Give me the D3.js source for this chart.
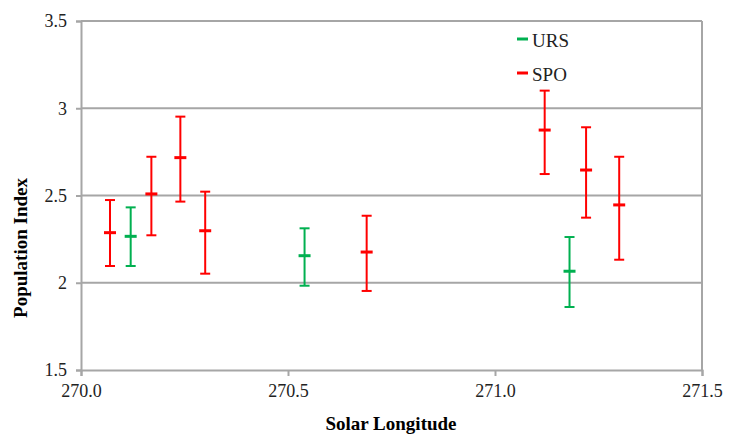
<!DOCTYPE html>
<html>
<head>
<meta charset="utf-8">
<script src="https://cdn.jsdelivr.net/npm/d3@7"></script>
<style>
  body { margin: 0; background: #fff; }
  svg text { font-family: "Liberation Serif", "Times New Roman", Times, Tinos, "DejaVu Serif", serif !important; }
</style>
</head>
<body>
<svg width="736" height="435"></svg>
<script>
// URS series
const ursLon = [270.12, 270.54, 271.18];
const ursMid = [2.266, 2.155, 2.066];
const ursLow = [2.096, 1.983, 1.861];
const ursHigh = [2.432, 2.312, 2.262];

// SPO series
const spoLon = [270.07, 270.17, 270.24, 270.30, 270.69, 271.12, 271.22, 271.30];
const spoMid = [2.287, 2.509, 2.717, 2.298, 2.176, 2.875, 2.646, 2.446];
const spoLow = [2.096, 2.272, 2.465, 2.052, 1.953, 2.623, 2.373, 2.132];
const spoHigh = [2.474, 2.722, 2.952, 2.522, 2.384, 3.101, 2.891, 2.722];

const xTicks = [270.0, 270.5, 271.0, 271.5];
const yTicks = [1.5, 2, 2.5, 3, 3.5];

const svg = d3.select('svg');
const gridColor = '#a6a6a6';
const serif = '"Liberation Serif", "Times New Roman", Times, Tinos, "DejaVu Serif", serif';

const x = d3.scaleLinear().domain([270, 271.5]).range([81, 702]);
const y = d3.scaleLinear().domain([1.5, 3.5]).range([370, 21]);

// horizontal gridlines
svg.append('g')
  .selectAll('line')
  .data(yTicks.slice(1))
  .join('line')
  .attr('x1', x(270)).attr('x2', x(271.5))
  .attr('y1', d => y(d)).attr('y2', d => y(d))
  .attr('stroke', gridColor)
  .attr('stroke-width', 2);

// right border
svg.append('line')
  .attr('x1', x(271.5)).attr('x2', x(271.5))
  .attr('y1', y(3.5)).attr('y2', y(1.5))
  .attr('stroke', gridColor).attr('stroke-width', 2);

// y axis
const yAxis = svg.append('g')
  .attr('transform', `translate(${x(270)},0)`)
  .call(d3.axisLeft(y).tickValues(yTicks).tickFormat(d3.format('')).tickSize(5).tickPadding(9));

// x axis
const xAxis = svg.append('g')
  .attr('transform', `translate(0,${y(1.5)})`)
  .call(d3.axisBottom(x).tickValues(xTicks).tickFormat(d3.format('.1f')).tickSize(6).tickPadding(8));

[yAxis, xAxis].forEach(a => {
  a.attr('font-family', serif).attr('font-size', 18);
  a.select('.domain').attr('stroke', gridColor).attr('stroke-width', 2);
  a.selectAll('.tick line').attr('stroke', gridColor).attr('stroke-width', 2);
  a.selectAll('.tick text').attr('fill', '#222');
});

// axis titles
svg.append('text')
  .attr('x', 391).attr('y', 430)
  .attr('text-anchor', 'middle')
  .attr('font-family', serif)
  .style('font-size', '19px').style('font-weight', 'bold')
  .text('Solar Longitude');

svg.append('text')
  .attr('transform', 'translate(27,248) rotate(-90)')
  .attr('text-anchor', 'middle')
  .attr('font-family', serif)
  .style('font-size', '19px').style('font-weight', 'bold')
  .text('Population Index');

function drawSeries(lon, mid, low, high, color) {
  const data = lon.map((d, i) => ({ lon: d, mid: mid[i], low: low[i], high: high[i] }));
  const g = svg.append('g');
  const bars = g.selectAll('g').data(data).join('g');
  bars.append('line')
    .attr('x1', d => x(d.lon)).attr('x2', d => x(d.lon))
    .attr('y1', d => y(d.low)).attr('y2', d => y(d.high))
    .attr('stroke', color).attr('stroke-width', 2);
  bars.append('line')
    .attr('x1', d => x(d.lon) - 5).attr('x2', d => x(d.lon) + 5)
    .attr('y1', d => y(d.low)).attr('y2', d => y(d.low))
    .attr('stroke', color).attr('stroke-width', 2);
  bars.append('line')
    .attr('x1', d => x(d.lon) - 5).attr('x2', d => x(d.lon) + 5)
    .attr('y1', d => y(d.high)).attr('y2', d => y(d.high))
    .attr('stroke', color).attr('stroke-width', 2);
  bars.append('line')
    .attr('x1', d => x(d.lon) - 6).attr('x2', d => x(d.lon) + 6)
    .attr('y1', d => y(d.mid)).attr('y2', d => y(d.mid))
    .attr('stroke', color).attr('stroke-width', 3);
}

drawSeries(spoLon, spoMid, spoLow, spoHigh, '#ff0000');
drawSeries(ursLon, ursMid, ursLow, ursHigh, '#00b050');

// legend
const legend = [['URS', '#00b050', 39], ['SPO', '#ff0000', 73]];
const lg = svg.append('g');
legend.forEach(([name, color, ly]) => {
  lg.append('line')
    .attr('x1', 517).attr('x2', 528)
    .attr('y1', ly).attr('y2', ly)
    .attr('stroke', color).attr('stroke-width', 3);
  lg.append('text')
    .attr('x', 532).attr('y', ly + 8)
    .attr('font-family', serif)
    .style('font-size', '19px')
    .attr('fill', '#222')
    .text(name);
});
</script>
</body>
</html>
